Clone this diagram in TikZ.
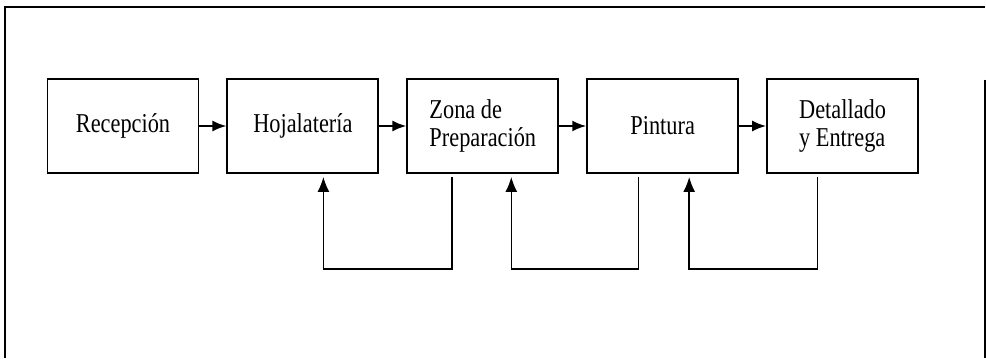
\documentclass[tikz,border=0pt]{standalone}
\usepackage{fontspec}
\setmainfont{Liberation Serif}[FakeStretch=0.82]
\usetikzlibrary{shapes,arrows.meta,positioning,calc}

\tikzset{
	etapa/.style={draw, line width=1.1pt, minimum width=30.2mm, minimum height=18.8mm, align=left, anchor=center},
	paso/.style={line width=1.1pt,-{Latex[length=2.8mm,width=2.2mm]}},
	retorno/.style={line width=0.8pt,-{Latex[length=3mm,width=2.4mm]}, shorten >=0.6mm, shorten <=0.6mm}
}

\begin{document}
\begin{tikzpicture}[x=0.02cm,y=-0.02cm, node distance=5.4mm]

		\useasboundingbox (0,0) rectangle (986,358);
		\fontsize{15.5}{16}\selectfont
		% open frame round the process
		\draw[line width=1.1pt] (5,358)--(5,7)--(985,7);
		\draw[line width=1.1pt] (985,80)--(985,358);
		\node[etapa] (recep) at (123,126) {Recepción};
		\node[etapa, right=of recep] (hoja) {Hojalatería};
		\node[etapa, right=of hoja] (zona) {Zona de\\Preparación};
		\node[etapa, right=of zona] (pint) {Pintura};
		\node[etapa, right=of pint] (detal) {Detallado\\y Entrega};
		\draw[paso] (recep)--(hoja);
		\draw[paso] (hoja)--(zona);
		\draw[paso] (zona)--(pint);
		\draw[paso] (pint)--(detal);
		% returns to the step before
		\draw[retorno] ([xshift=-6.2mm]zona.south)--++(0,95)-|([xshift=4.1mm]hoja.south);
		\draw[retorno] ([xshift=-4.9mm]pint.south)--++(0,95)-|([xshift=5.7mm]zona.south);
		\draw[retorno] ([xshift=-5mm]detal.south)--++(0,95)-|([xshift=5.3mm]pint.south);
		\end{tikzpicture}
\end{document}
